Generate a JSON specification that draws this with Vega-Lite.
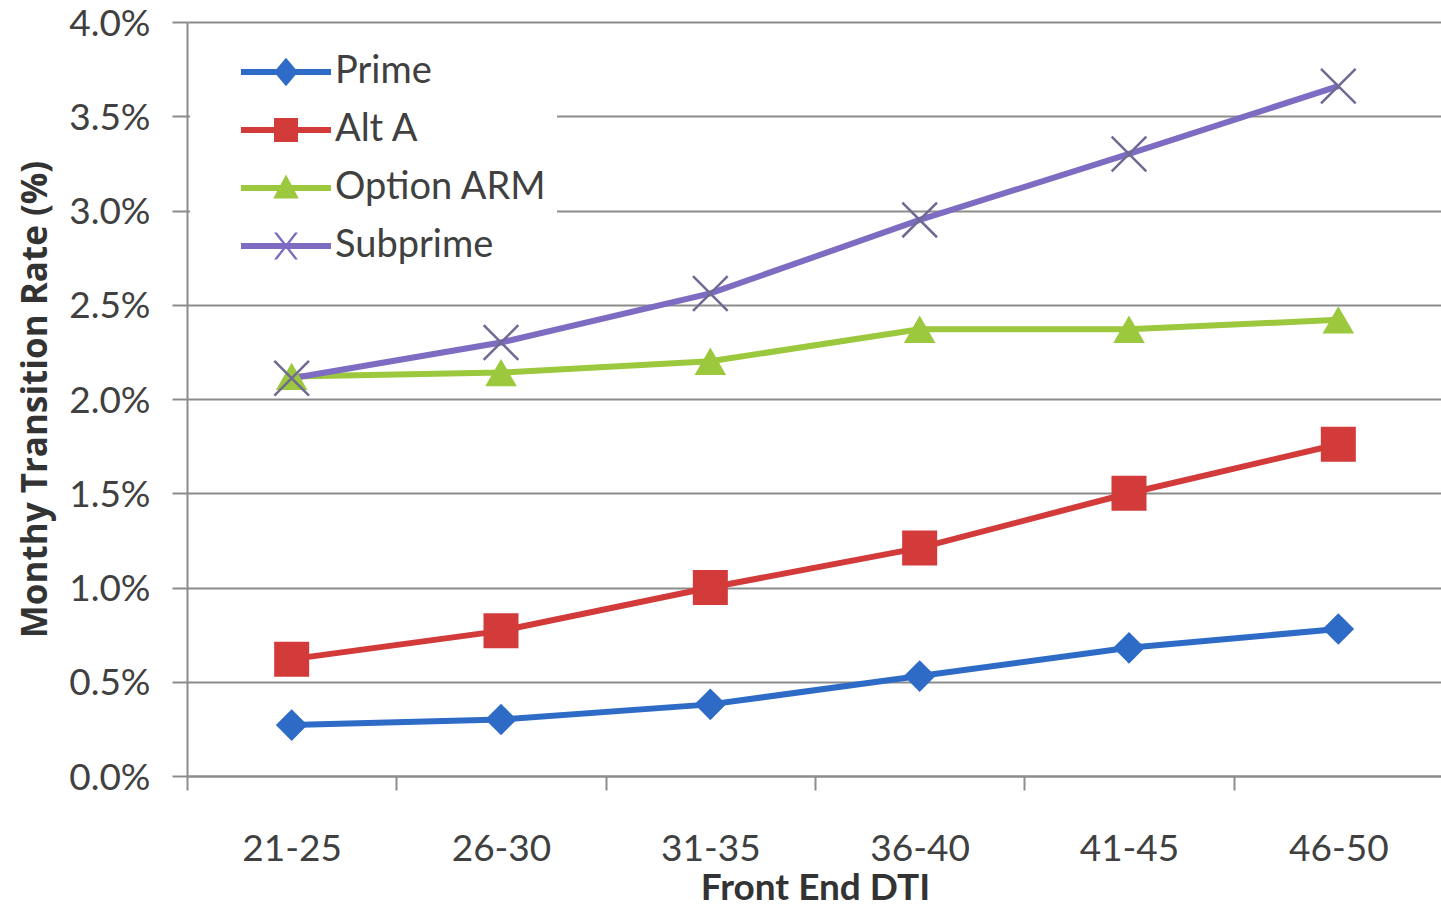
{
  "$schema": "https://vega.github.io/schema/vega-lite/v6.json",
  "autosize": "none",
  "padding": {"left": 187, "top": 22, "right": 0, "bottom": 132},
  "width": 1256,
  "height": 754,
  "background": "white",
  "config": {
    "view": {"stroke": null},
    "font": "Lato",
    "axis": {"labelFont": "Lato", "titleFont": "Lato", "labelColor": "#404040", "titleColor": "#333333", "domainColor": "#8c8c8c", "tickColor": "#8c8c8c", "domainWidth": 2, "tickWidth": 2},
    "legend": {"orient": "none", "legendX": 3, "legendY": 21, "padding": 10, "fillColor": "white", "labelFont": "Lato", "labelFontSize": 38, "labelColor": "#404040", "labelLimit": 400, "symbolSize": 900, "symbolOffset": 67, "labelOffset": 30, "rowPadding": 20, "symbolStrokeWidth": 0, "symbolOpacity": 1}
  },
  "data": {
    "values": [
      {"dti": "21-25", "series": "Prime", "rate": 0.0027},
      {"dti": "26-30", "series": "Prime", "rate": 0.0030},
      {"dti": "31-35", "series": "Prime", "rate": 0.0038},
      {"dti": "36-40", "series": "Prime", "rate": 0.0053},
      {"dti": "41-45", "series": "Prime", "rate": 0.0068},
      {"dti": "46-50", "series": "Prime", "rate": 0.0078},
      {"dti": "21-25", "series": "Alt A", "rate": 0.0062},
      {"dti": "26-30", "series": "Alt A", "rate": 0.0077},
      {"dti": "31-35", "series": "Alt A", "rate": 0.0100},
      {"dti": "36-40", "series": "Alt A", "rate": 0.0121},
      {"dti": "41-45", "series": "Alt A", "rate": 0.0150},
      {"dti": "46-50", "series": "Alt A", "rate": 0.0176},
      {"dti": "21-25", "series": "Option ARM", "rate": 0.0212},
      {"dti": "26-30", "series": "Option ARM", "rate": 0.0214},
      {"dti": "31-35", "series": "Option ARM", "rate": 0.0220},
      {"dti": "36-40", "series": "Option ARM", "rate": 0.0237},
      {"dti": "41-45", "series": "Option ARM", "rate": 0.0237},
      {"dti": "46-50", "series": "Option ARM", "rate": 0.0242},
      {"dti": "21-25", "series": "Subprime", "rate": 0.0211},
      {"dti": "26-30", "series": "Subprime", "rate": 0.0230},
      {"dti": "31-35", "series": "Subprime", "rate": 0.0256},
      {"dti": "36-40", "series": "Subprime", "rate": 0.0295},
      {"dti": "41-45", "series": "Subprime", "rate": 0.0330},
      {"dti": "46-50", "series": "Subprime", "rate": 0.0366}
    ]
  },
  "encoding": {
    "x": {
      "field": "dti", "type": "nominal", "sort": null,
      "scale": {"paddingInner": 0, "paddingOuter": 0},
      "axis": {"title": "Front End DTI", "labelAngle": 0, "labelFontSize": 37, "tickSize": 14, "tickBand": "extent", "labelPadding": 41, "titleFontSize": 37, "titleFontWeight": "bold", "titlePadding": 3, "grid": false}
    },
    "y": {
      "field": "rate", "type": "quantitative",
      "scale": {"domain": [0, 0.04], "nice": false},
      "axis": {"title": "Monthy Transition Rate (%)", "format": ".1%", "values": [0, 0.005, 0.01, 0.015, 0.02, 0.025, 0.03, 0.035, 0.04], "labelFontSize": 37, "labelOffset": 2, "tickSize": 15, "labelPadding": 22, "titleFont": "Open Sans", "titleFontSize": 35, "titleFontWeight": "bold", "titlePadding": 15, "grid": true, "gridColor": "#8c8c8c", "gridWidth": 2}
    },
    "color": {"field": "series", "type": "nominal", "scale": {"domain": ["Prime", "Alt A", "Option ARM", "Subprime"], "range": ["#2d6bc6", "#d33a3a", "#9bc83c", "#7d6cc2"]}, "legend": {"title": null}}
  },
  "layer": [
    {
      "mark": {"type": "point", "filled": true, "opacity": 0, "size": 900},
      "encoding": {
        "shape": {"field": "series", "type": "nominal", "scale": {"domain": ["Prime", "Alt A", "Option ARM", "Subprime"], "range": [
          "M-3,-0.2H3V0.2H-3Z M0,-0.95L0.8,0L0,0.95L-0.8,0Z",
          "M-3,-0.2H3V0.2H-3Z M-0.8,-0.8H0.8V0.8H-0.8Z",
          "M-3,-0.2H3V0.2H-3Z M0,-0.9L0.85,0.7H-0.85Z",
          "M-3,-0.2H3V0.2H-3Z M-0.8,-0.9L-0.6,-0.9L0.8,0.9L0.6,0.9Z M0.6,-0.9L0.8,-0.9L-0.6,0.9L-0.8,0.9Z"
        ]}, "legend": {"title": null}}
      }
    },
    {
      "mark": {"type": "line", "strokeWidth": 6}
    },
    {
      "transform": [{"filter": "datum.series === 'Prime'"}],
      "mark": {"type": "point", "filled": true, "opacity": 1, "shape": "diamond", "size": 1000}
    },
    {
      "transform": [{"filter": "datum.series === 'Alt A'"}],
      "mark": {"type": "point", "filled": true, "opacity": 1, "shape": "square", "size": 1225}
    },
    {
      "transform": [{"filter": "datum.series === 'Option ARM'"}],
      "mark": {"type": "point", "filled": true, "opacity": 1, "shape": "triangle-up", "size": 1000}
    },
    {
      "transform": [{"filter": "datum.series === 'Subprime'"}],
      "mark": {"type": "point", "filled": false, "shape": "M-1,-1L1,1M-1,1L1,-1", "stroke": "#6f6a93", "strokeWidth": 2.5, "size": 1200, "opacity": 1},
      "encoding": {"color": {"value": "#6f6a93"}}
    }
  ]
}
